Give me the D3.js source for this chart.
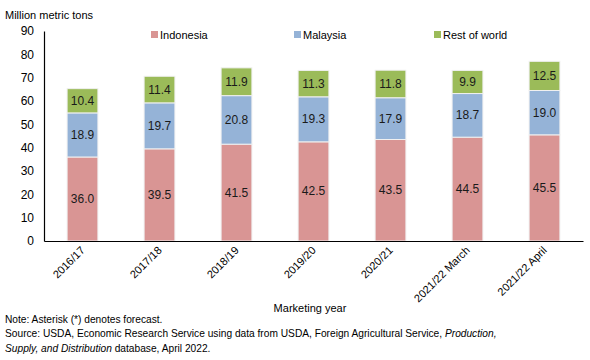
<!DOCTYPE html>
<html><head><meta charset="utf-8">
<script src="https://cdn.jsdelivr.net/npm/d3@7"></script>
<style>body{margin:0;background:#fff}svg{font-family:"Liberation Sans",Arial,sans-serif}</style>
</head><body><svg id="c" width="590" height="360"></svg>
<script>
const categories = ["2016/17","2017/18","2018/19","2019/20","2020/21","2021/22 March","2021/22 April"];
const indonesia = [36.0,39.5,41.5,42.5,43.5,44.5,45.5];
const malaysia = [18.9,19.7,20.8,19.3,17.9,18.7,19.0];
const restOfWorld = [10.4,11.4,11.9,11.3,11.8,9.9,12.5];
const seriesNames = ["Indonesia","Malaysia","Rest of world"];
const colors = ["#D99594","#95B3D7","#9BBB59"];
const yTicks = [0,10,20,30,40,50,60,70,80,90];

(function(){
const svg = d3.select("#c");
const mL = 44, mR = 583, mT = 31, mB = 241;
const x = d3.scaleBand().domain(categories).range([mL,mR]).paddingInner(0.6).paddingOuter(0.3);
const y = d3.scaleLinear().domain([0,90]).range([mB,mT]);

const rows = categories.map((c,i)=>({cat:c, "Indonesia":indonesia[i], "Malaysia":malaysia[i], "Rest of world":restOfWorld[i]}));
const stack = d3.stack().keys(seriesNames)(rows);

const yAxis = d3.axisLeft(y).tickValues(yTicks).tickSize(0).tickPadding(10);
const gy = svg.append("g").attr("transform",`translate(${mL},0)`).call(yAxis);
gy.select(".domain").attr("stroke","#000").attr("stroke-width",1.2);
gy.selectAll("text").attr("font-size",12).attr("fill","#000").attr("font-family","Liberation Sans, Arial");

stack.forEach((s,si)=>{
  const g = svg.append("g");
  g.selectAll("rect").data(s).join("rect")
    .attr("x",d=>x(d.data.cat)).attr("width",x.bandwidth())
    .attr("y",d=>y(d[1])).attr("height",d=>y(d[0])-y(d[1]))
    .attr("fill",colors[si]).attr("stroke","#f0f0f0").attr("stroke-width",1);
  g.selectAll("text").data(s).join("text")
    .attr("x",d=>x(d.data.cat)+x.bandwidth()/2)
    .attr("y",d=>(y(d[0])+y(d[1]))/2+4)
    .attr("text-anchor","middle").attr("font-size",12).attr("fill","#1a1a1a")
    .text(d=>(d[1]-d[0]).toFixed(1));
});

const xAxis = d3.axisBottom(x).tickSize(0).tickPadding(0);
const gx = svg.append("g").attr("transform",`translate(0,${mB})`).call(xAxis);
gx.select(".domain").attr("stroke","#000").attr("stroke-width",1.2);
gx.selectAll("text").attr("font-size",11).attr("fill","#000").attr("font-family","Liberation Sans, Arial")
  .attr("text-anchor","end").attr("dy",0)
  .attr("transform","translate(3,10) rotate(-45)");

svg.append("text").attr("x",5).attr("y",19).attr("font-size",11).text("Million metric tons");
svg.append("text").attr("x",310).attr("y",312).attr("text-anchor","middle").attr("font-size",11).text("Marketing year");

const legX = [151,294,434];
seriesNames.forEach((n,i)=>{
  svg.append("rect").attr("x",legX[i]).attr("y",31).attr("width",7).attr("height",7).attr("fill",colors[i]);
  svg.append("text").attr("x",legX[i]+9).attr("y",39).attr("font-size",11).text(n);
});

const notes = svg.append("g").attr("font-size",10.2);
notes.append("text").attr("x",5).attr("y",323).text("Note: Asterisk (*) denotes forecast.");
const t2 = notes.append("text").attr("x",5).attr("y",337);
t2.append("tspan").text("Source: USDA, Economic Research Service using data from USDA, Foreign Agricultural Service, ");
t2.append("tspan").attr("font-style","italic").text("Production,");
const t3 = notes.append("text").attr("x",5).attr("y",352);
t3.append("tspan").attr("font-style","italic").text("Supply, and Distribution");
t3.append("tspan").text(" database, April 2022.");
})();
</script></body></html>
